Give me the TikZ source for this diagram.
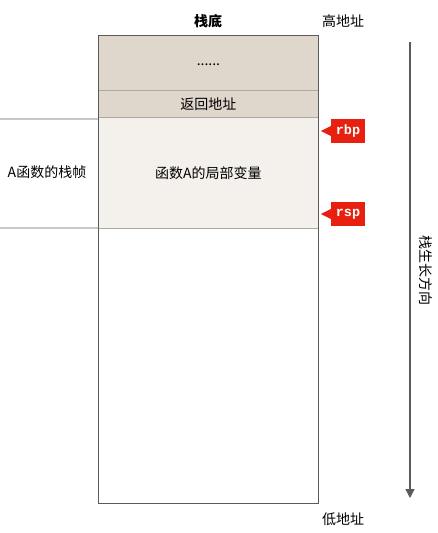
\documentclass[tikz,border=0pt]{standalone}
\usepackage{fontspec}
\setmainfont{Noto Sans CJK SC}
\newfontfamily\tagfont[BoldFont={Liberation Mono Bold}]{Liberation Mono}
\usetikzlibrary{arrows.meta}
\definecolor{topfill}{HTML}{DFD6CC}
\definecolor{midfill}{HTML}{F4F0EC}
\definecolor{tagred}{HTML}{E8200F}
\definecolor{frameg}{HTML}{5A5A5A}
\definecolor{divg}{HTML}{A8A8A8}
\definecolor{leftg}{HTML}{C8C8C8}
\tikzset{
  cell/.style={draw=divg, line width=0.9pt, minimum width=220pt, inner sep=0pt, anchor=north west, font=\fontsize{14}{16}\selectfont},
  lbl/.style={font=\fontsize{14}{16}\selectfont, inner sep=0pt},
  regtag/.style={fill=tagred, text=white, font=\tagfont\bfseries\fontsize{13.5}{15}\selectfont, minimum width=34pt, minimum height=24pt, inner sep=0pt},
}
\begin{document}
\begin{tikzpicture}[x=1pt,y=-1pt]
\useasboundingbox (0,0) rectangle (438,533);
\node[cell, fill=topfill, minimum height=55pt] (dots) at (98,35) {\smash{\raisebox{-3pt}{......}}};
\node[cell, fill=topfill, minimum height=27pt] (ret) at (98,90) {返回地址};
\node[cell, fill=midfill, minimum height=111pt] (loc) at (98,117) {函数A的局部变量};
\node[cell, draw=none, minimum height=275pt] (rest) at (98,228) {};
\draw[frameg, line width=1pt] (dots.north west) rectangle (rest.south east);
\coordinate (lt) at (0,119);
\coordinate (lb) at (0,228);
\draw[leftg, line width=1.2pt] (lt) -- (lt -| loc.west);
\draw[leftg, line width=1.2pt] (lb) -- (lb -| loc.west);
\node[lbl] (frame) at (47,172) {A函数的栈帧};
\node[lbl, font=\bfseries\fontsize{14}{16}\selectfont] (bottom) at (208,21) {栈底};
\node[lbl] (high) at (343,21) {高地址};
\node[lbl] (low) at (343,519) {低地址};
\coordinate (as) at (410,42);
\coordinate (ae) at (410,498);
\draw[frameg, line width=1.2pt, -{Triangle[length=9pt,width=9pt]}] (as) -- (ae);
\node[lbl, rotate=-90] (dir) at (426,270) {栈生长方向};
\node[regtag] (rbp) at (348,131) {rbp};
\node[regtag] (rsp) at (348,214) {rsp};
\fill[tagred] (rbp.west) ++(0,-5) -- ++(-10,5) -- ++(10,5) -- cycle;
\fill[tagred] (rsp.west) ++(0,-5) -- ++(-10,5) -- ++(10,5) -- cycle;
\end{tikzpicture}
\end{document}
